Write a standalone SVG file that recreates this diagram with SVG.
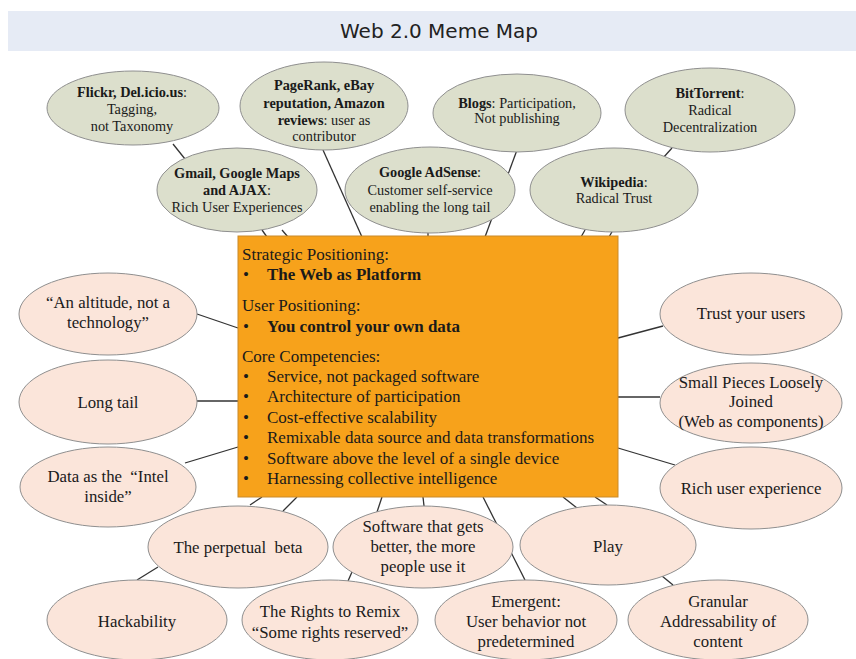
<svg xmlns="http://www.w3.org/2000/svg" width="856" height="659" viewBox="0 0 856 659">
<style>
.g{fill:#dcdfcc;stroke:#8f8f8f;stroke-width:1}
.p{fill:#fbe5da;stroke:#8f8f8f;stroke-width:1}
.t{font-family:"Liberation Serif","Times New Roman",serif;font-size:14.3px;fill:#1a1a1a;text-anchor:middle}
.u{font-family:"Liberation Serif","Times New Roman",serif;font-size:16.8px;fill:#1a1a1a;text-anchor:middle}
.b{font-weight:bold}
.c{font-family:"Liberation Serif","Times New Roman",serif;font-size:17px;fill:#1a1a1a}
.l{stroke:#333;stroke-width:1.3;fill:none}
</style>
<rect width="856" height="659" fill="#fff"/>
<g id="title">
<rect x="8" y="11" width="848" height="40" fill="#e6ebf5"/>
<text x="439" y="38" font-family="DejaVu Sans, sans-serif" font-size="20" fill="#222" text-anchor="middle">Web 2.0 Meme Map</text>
</g>
<g id="connectors">
<line class="l" x1="173" y1="144" x2="185" y2="159"/>
<line class="l" x1="262" y1="230" x2="267" y2="237"/>
<line class="l" x1="282" y1="230" x2="288" y2="237"/>
<line class="l" x1="323" y1="150" x2="362" y2="237"/>
<line class="l" x1="428" y1="230" x2="428" y2="237"/>
<line class="l" x1="517" y1="150" x2="485" y2="237"/>
<line class="l" x1="585" y1="230" x2="581" y2="237"/>
<line class="l" x1="613" y1="230" x2="609" y2="237"/>
<line class="l" x1="672" y1="148" x2="663" y2="158"/>
<line class="l" x1="197" y1="314" x2="238" y2="328"/>
<line class="l" x1="197" y1="401" x2="238" y2="401"/>
<line class="l" x1="185" y1="463" x2="238" y2="447"/>
<line class="l" x1="618" y1="338" x2="663" y2="326"/>
<line class="l" x1="618" y1="397" x2="660" y2="397"/>
<line class="l" x1="618" y1="448" x2="675" y2="465"/>
<line class="l" x1="250" y1="505" x2="262" y2="497"/>
<line class="l" x1="283" y1="511" x2="297" y2="497"/>
<line class="l" x1="158" y1="567" x2="137" y2="580"/>
<line class="l" x1="382" y1="497" x2="377" y2="512"/>
<line class="l" x1="423" y1="497" x2="424" y2="506"/>
<line class="l" x1="483" y1="497" x2="525" y2="580"/>
<line class="l" x1="352" y1="572" x2="348" y2="581"/>
<line class="l" x1="563" y1="497" x2="577" y2="508"/>
<line class="l" x1="595" y1="497" x2="607" y2="505"/>
<line class="l" x1="662" y1="576" x2="673" y2="585"/>
</g>
<g id="flickr">
<ellipse class="g" cx="133" cy="108" rx="86" ry="37"/>
<text class="t" x="132" y="97"><tspan class="b">Flickr, Del.icio.us</tspan>:</text>
<text class="t" x="132" y="114">Tagging,</text>
<text class="t" x="132" y="131">not Taxonomy</text>
</g>
<g id="pagerank">
<ellipse class="g" cx="324" cy="106" rx="84" ry="44"/>
<text class="t b" x="324" y="90">PageRank, eBay</text>
<text class="t b" x="324" y="108">reputation, Amazon</text>
<text class="t" x="324" y="125"><tspan class="b">reviews</tspan>: user as</text>
<text class="t" x="324" y="141">contributor</text>
</g>
<g id="blogs">
<ellipse class="g" cx="517" cy="113" rx="84" ry="39"/>
<text class="t" x="517" y="108"><tspan class="b">Blogs</tspan>: Participation,</text>
<text class="t" x="517" y="123">Not publishing</text>
</g>
<g id="bittorrent">
<ellipse class="g" cx="710" cy="110" rx="85" ry="42"/>
<text class="t" x="710" y="98"><tspan class="b">BitTorrent</tspan>:</text>
<text class="t" x="710" y="115">Radical</text>
<text class="t" x="710" y="132">Decentralization</text>
</g>
<g id="gmail">
<ellipse class="g" cx="237" cy="190" rx="80" ry="42"/>
<text class="t b" x="237" y="178">Gmail, Google Maps</text>
<text class="t" x="237" y="195"><tspan class="b">and AJAX</tspan>:</text>
<text class="t" x="237" y="212">Rich User Experiences</text>
</g>
<g id="adsense">
<ellipse class="g" cx="430" cy="190" rx="85" ry="43"/>
<text class="t" x="430" y="177"><tspan class="b">Google AdSense</tspan>:</text>
<text class="t" x="430" y="195">Customer self-service</text>
<text class="t" x="430" y="212">enabling the long tail</text>
</g>
<g id="wikipedia">
<ellipse class="g" cx="614" cy="190" rx="84" ry="42"/>
<text class="t" x="614" y="187"><tspan class="b">Wikipedia</tspan>:</text>
<text class="t" x="614" y="203">Radical Trust</text>
</g>
<g id="core">
<rect x="238" y="236" width="380" height="261" fill="#f7a21b" stroke="#c98a2a" stroke-width="1"/>
<text class="c" x="242" y="260">Strategic Positioning:</text>
<text class="c" x="243" y="280">•</text><text class="c b" x="267" y="280">The Web as Platform</text>
<text class="c" x="242" y="311">User Positioning:</text>
<text class="c" x="243" y="332">•</text><text class="c b" x="267" y="332">You control your own data</text>
<text class="c" x="242" y="362">Core Competencies:</text>
<text class="c" x="243" y="382">•</text><text class="c" x="267" y="382">Service, not packaged software</text>
<text class="c" x="243" y="402">•</text><text class="c" x="267" y="402">Architecture of participation</text>
<text class="c" x="243" y="423">•</text><text class="c" x="267" y="423">Cost-effective scalability</text>
<text class="c" x="243" y="443">•</text><text class="c" x="267" y="443">Remixable data source and data transformations</text>
<text class="c" x="243" y="464">•</text><text class="c" x="267" y="464">Software above the level of a single device</text>
<text class="c" x="243" y="484">•</text><text class="c" x="267" y="484">Harnessing collective intelligence</text>
</g>
<g id="altitude">
<ellipse class="p" cx="108" cy="314" rx="89" ry="41"/>
<text class="u" x="108" y="308">“An altitude, not a</text>
<text class="u" x="108" y="328">technology”</text>
</g>
<g id="longtail">
<ellipse class="p" cx="108" cy="402" rx="89" ry="42"/>
<text class="u" x="108" y="408">Long tail</text>
</g>
<g id="intel">
<ellipse class="p" cx="108" cy="487" rx="88" ry="40"/>
<text class="u" x="108" y="482" xml:space="preserve">Data as the  “Intel</text>
<text class="u" x="108" y="502">inside”</text>
</g>
<g id="trust">
<ellipse class="p" cx="751" cy="314" rx="91" ry="41"/>
<text class="u" x="751" y="319">Trust your users</text>
</g>
<g id="smallpieces">
<ellipse class="p" cx="751" cy="403" rx="91" ry="40"/>
<text class="u" x="751" y="388" font-size="16">Small Pieces Loosely</text>
<text class="u" x="751" y="407" font-size="16">Joined</text>
<text class="u" x="751" y="427" font-size="16">(Web as components)</text>
</g>
<g id="richux">
<ellipse class="p" cx="751" cy="488" rx="91" ry="41"/>
<text class="u" x="751" y="494">Rich user experience</text>
</g>
<g id="beta">
<ellipse class="p" cx="238" cy="547" rx="90" ry="41"/>
<text class="u" x="238" y="553" xml:space="preserve">The perpetual  beta</text>
</g>
<g id="software">
<ellipse class="p" cx="423" cy="547" rx="90" ry="41"/>
<text class="u" x="423" y="532">Software that gets</text>
<text class="u" x="423" y="552">better, the more</text>
<text class="u" x="423" y="572">people use it</text>
</g>
<g id="play">
<ellipse class="p" cx="608" cy="545" rx="88" ry="40"/>
<text class="u" x="608" y="552">Play</text>
</g>
<g id="hackability">
<ellipse class="p" cx="137" cy="620" rx="90" ry="40"/>
<text class="u" x="137" y="627">Hackability</text>
</g>
<g id="remix">
<ellipse class="p" cx="330" cy="620" rx="88" ry="40"/>
<text class="u" x="330" y="617">The Rights to Remix</text>
<text class="u" x="330" y="638">“Some rights reserved”</text>
</g>
<g id="emergent">
<ellipse class="p" cx="526" cy="620" rx="91" ry="40"/>
<text class="u" x="526" y="607">Emergent:</text>
<text class="u" x="526" y="627">User behavior not</text>
<text class="u" x="526" y="647">predetermined</text>
</g>
<g id="granular">
<ellipse class="p" cx="718" cy="620" rx="90" ry="40"/>
<text class="u" x="718" y="607">Granular</text>
<text class="u" x="718" y="627">Addressability of</text>
<text class="u" x="718" y="647">content</text>
</g>
</svg>
